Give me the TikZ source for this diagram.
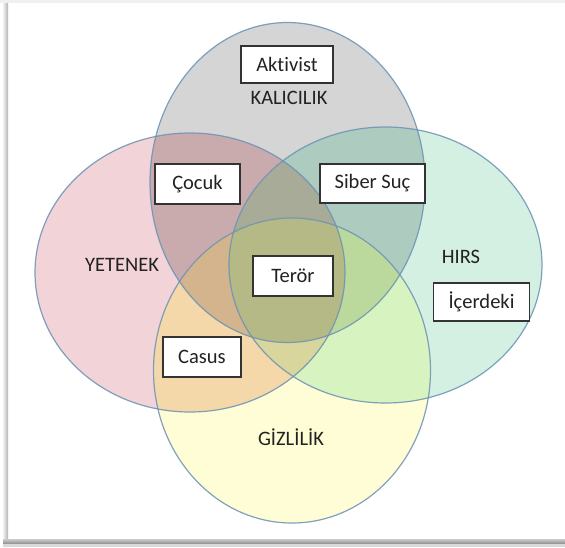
\documentclass[tikz,border=0pt]{standalone}
\usepackage{fontspec}
\setmainfont[RawFeature=-liga]{Carlito}
\definecolor{cT}{HTML}{D5D5D5}
\definecolor{cL}{HTML}{F2D3D7}
\definecolor{cR}{HTML}{D3F0E2}
\definecolor{cB}{HTML}{FFFDD6}
\definecolor{cTL}{HTML}{C9ABAD}
\definecolor{cTR}{HTML}{ADCCBF}
\definecolor{cTB}{HTML}{D6D4A0}
\definecolor{cLR}{HTML}{BFC0B0}
\definecolor{cLB}{HTML}{F5D8A9}
\definecolor{cRB}{HTML}{D7F3BF}
\definecolor{cTLR}{HTML}{A8AB98}
\definecolor{cTLB}{HTML}{D3B48C}
\definecolor{cTRB}{HTML}{BCD99D}
\definecolor{cLRB}{HTML}{D8D59D}
\definecolor{cTLRB}{HTML}{B5B986}
\definecolor{edge}{HTML}{6A92B6}
\definecolor{txt}{HTML}{222222}
\def\ellT{(287.5,182.5) ellipse [x radius=137.5pt, y radius=160pt]}
\def\ellL{(190,272.5) ellipse [x radius=155pt, y radius=139.5pt]}
\def\ellR{(385.5,265) ellipse [x radius=156.5pt, y radius=138pt]}
\def\ellB{(292,370.5) ellipse [x radius=138.5pt, y radius=152.5pt]}
\tikzset{
  lbl/.style={font=\fontsize{20.5}{23}\selectfont, text=txt, inner sep=0pt},
  tagbox/.style={draw=black!80, line width=1.4pt, fill=white, font=\fontsize{20.5}{23}\selectfont, text=txt, inner sep=0pt, anchor=center},
  rim/.style={draw=edge, line width=1.2pt, draw opacity=0.85}
}
\begin{document}
\begin{tikzpicture}[x=1pt,y=-1pt]
\useasboundingbox (0,0) rectangle (565,547);
% frame with shadow
\fill[white] (0,0) rectangle (565,547);
\fill[black!6] (0,0) rectangle (565,3);
\shade[left color=black!5, right color=black!30] (3,3) rectangle (8,545);
\shade[top color=black!20, bottom color=black!45] (3,539) rectangle (565,544);
\fill[black!15] (3,544) rectangle (565,547);
% single regions
\fill[cT] \ellT;
\fill[cL] \ellL;
\fill[cR] \ellR;
\fill[cB] \ellB;
% pairs
\begin{scope}\clip \ellT; \fill[cTL] \ellL; \end{scope}
\begin{scope}\clip \ellT; \fill[cTR] \ellR; \end{scope}
\begin{scope}\clip \ellT; \fill[cTB] \ellB; \end{scope}
\begin{scope}\clip \ellL; \fill[cLR] \ellR; \end{scope}
\begin{scope}\clip \ellL; \fill[cLB] \ellB; \end{scope}
\begin{scope}\clip \ellR; \fill[cRB] \ellB; \end{scope}
% triples
\begin{scope}\clip \ellT; \clip \ellL; \fill[cTLR] \ellR; \end{scope}
\begin{scope}\clip \ellT; \clip \ellL; \fill[cTLB] \ellB; \end{scope}
\begin{scope}\clip \ellT; \clip \ellR; \fill[cTRB] \ellB; \end{scope}
\begin{scope}\clip \ellL; \clip \ellR; \fill[cLRB] \ellB; \end{scope}
% all four
\begin{scope}\clip \ellT; \clip \ellL; \clip \ellR; \fill[cTLRB] \ellB; \end{scope}
% outlines
\draw[rim] \ellT;
\draw[rim] \ellL;
\draw[rim] \ellR;
\draw[rim] \ellB;
% set labels
\node[lbl] (kal) at (289,98) {KALICILIK};
\node[lbl] (yet) at (122,265) {YETENEK};
\node[lbl] (hirs) at (461,257) {HIRS};
\node[lbl] (giz) at (291,437) {GİZLİLİK};
% boxes
\node[tagbox, minimum width=92pt, minimum height=37pt] (akt) at (287,64.5) {Aktivist};
\node[tagbox, minimum width=85pt, minimum height=40pt] (coc) at (197.5,184) {Çocuk};
\node[tagbox, minimum width=105pt, minimum height=39pt] (sib) at (372.5,183.5) {Siber Suç};
\node[tagbox, minimum width=80pt, minimum height=40pt] (ter) at (293,276) {Terör};
\node[tagbox, minimum width=96pt, minimum height=38pt] (ice) at (481.5,302) {İçerdeki};
\node[tagbox, minimum width=78pt, minimum height=40pt] (cas) at (202,357) {Casus};
\end{tikzpicture}
\end{document}
